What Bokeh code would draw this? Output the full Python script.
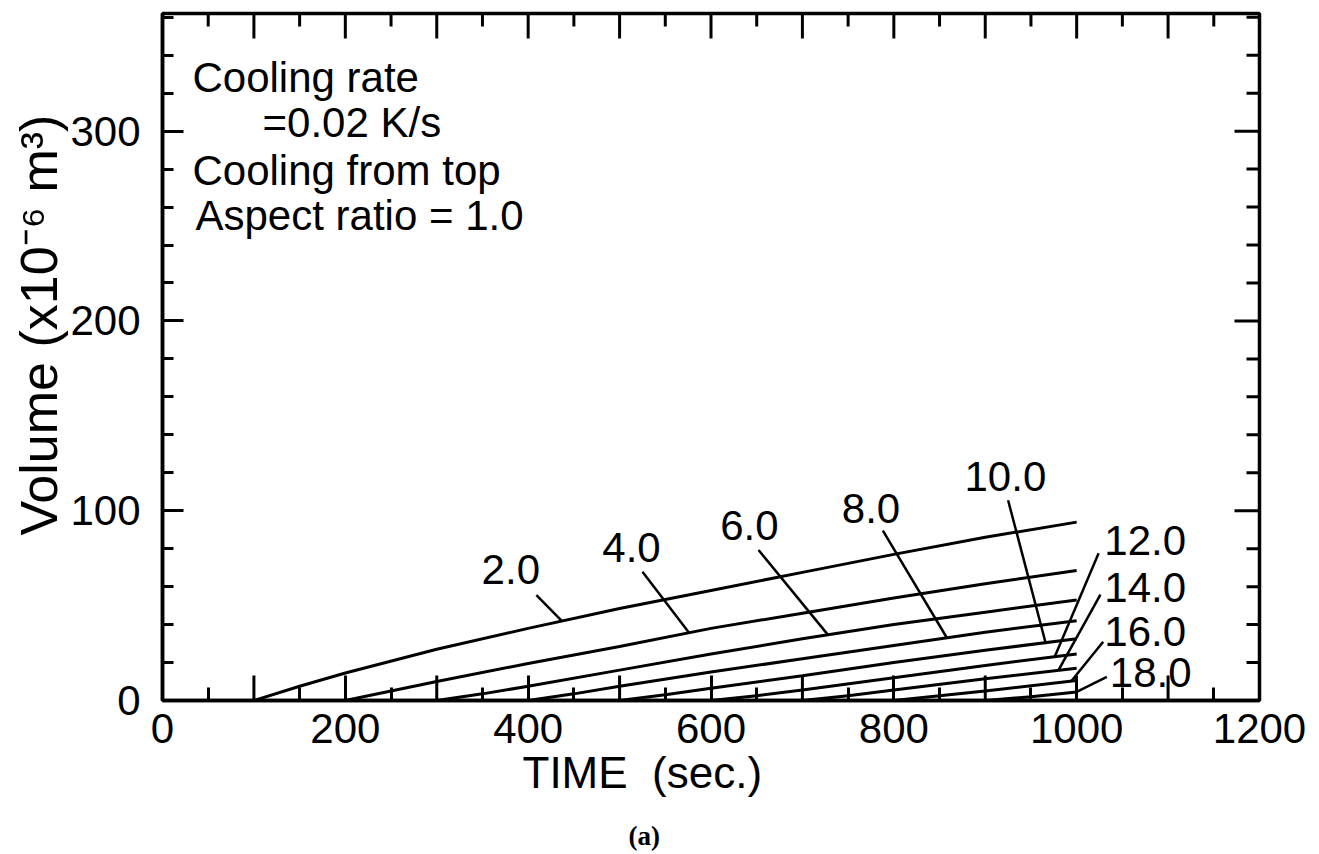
import numpy as np
from bokeh.plotting import figure
from bokeh.models import Range1d, FixedTicker, LinearAxis, Label, Title
from bokeh.embed import file_html
from bokeh.resources import INLINE

# ---------------- data ----------------
X_MAX = 1200
Y_MAX = 362
x_label_ticks = [0, 200, 400, 600, 800, 1000, 1200]
x_major_ticks = list(range(0, 1201, 100))
x_minor_ticks = list(range(50, 1200, 100))
y_major_ticks = [0, 100, 200, 300]
y_minor_ticks = [v for v in range(20, 361, 20) if v % 100 != 0]

curve_names = ["2.0", "4.0", "6.0", "8.0", "10.0", "12.0", "14.0", "16.0", "18.0"]

time_2 = [100, 150, 200, 300, 400, 500, 600, 700, 800, 900, 1000]
vol_2 = [0, 7.5, 14.5, 27, 38, 48.5, 58, 67.5, 77, 86, 94]
time_4 = [200, 250, 300, 400, 500, 600, 700, 800, 900, 1000]
vol_4 = [0, 5, 10, 19.5, 28.5, 38, 46, 54, 61.5, 68.5]
time_6 = [300, 350, 400, 500, 600, 700, 800, 900, 1000]
vol_6 = [0, 3.5, 7.5, 16, 24.5, 32.5, 40, 46.5, 53]
time_8 = [400, 450, 500, 600, 700, 800, 900, 1000]
vol_8 = [0, 3.5, 7.5, 15, 22, 29, 36, 42]
time_10 = [500, 550, 600, 700, 800, 900, 1000]
vol_10 = [0, 3, 6.5, 13, 20, 26.5, 32.5]
time_12 = [600, 650, 700, 800, 900, 1000]
vol_12 = [0, 2.5, 5.5, 12, 18.5, 24.5]
time_14 = [700, 750, 800, 900, 1000]
vol_14 = [0, 2.5, 5.5, 11.5, 17]
time_16 = [800, 850, 900, 1000]
vol_16 = [0, 2.5, 5, 10.5]
time_18 = [900, 950, 1000]
vol_18 = [0, 2, 4.5]

curve_times = [time_2, time_4, time_6, time_8, time_10, time_12, time_14, time_16, time_18]
curve_vols = [vol_2, vol_4, vol_6, vol_8, vol_10, vol_12, vol_14, vol_16, vol_18]

# ---------------- annotation layout (label centre, leader start, leader end time) ----------------
label_pos = [(381, 68.9), (513, 80.8), (642, 92), (775, 101.2), (922, 118.2),
             (1075, 84.5), (1075, 59.5), (1075, 36.5), (1081, 14.5)]
leader_start = [(409, 55.5), (525, 67.9), (652, 79.3), (788, 89.5), (925, 105.5),
                (1024, 77.6), (1026, 55.8), (1029, 31), (1033, 12.5)]
leader_end_t = [437, 576, 728, 858, 966, 976, 980, 994, 1000]

FONT = "Liberation Sans"

p = figure(frame_width=1097, frame_height=687,
           x_range=Range1d(0, X_MAX), y_range=Range1d(0, Y_MAX),
           output_backend="svg", toolbar_location=None,
           x_axis_type=None, y_axis_type=None,
           min_border_left=162, min_border_top=13, min_border_right=58, min_border_bottom=20)
p.grid.visible = False
p.outline_line_color = "black"
p.outline_line_width = 3.5
p.background_fill_color = "white"
p.border_fill_color = "white"


def style_axis(ax, tick_in, minor_in, standoff):
    ax.major_tick_in = tick_in
    ax.major_tick_out = 0
    ax.minor_tick_in = minor_in
    ax.minor_tick_out = 0
    ax.major_tick_line_width = 3
    ax.minor_tick_line_width = 3
    ax.major_tick_line_color = "black"
    ax.minor_tick_line_color = "black"
    ax.axis_line_width = 3.5
    ax.axis_line_color = "black"
    ax.major_label_text_font = FONT
    ax.major_label_text_font_size = "42px"
    ax.major_label_text_color = "black"
    ax.major_label_standoff = standoff


xb = LinearAxis(ticker=FixedTicker(ticks=x_label_ticks, minor_ticks=x_minor_ticks))
style_axis(xb, 25, 13, 13)
p.add_layout(xb, "below")

yl = LinearAxis(ticker=FixedTicker(ticks=y_major_ticks, minor_ticks=y_minor_ticks))
style_axis(yl, 21, 11, 22)
p.add_layout(yl, "left")

# titles (placed in the side panels)
p.add_layout(Title(text="TIME\u00a0\u00a0(sec.)", align="left", offset=360, standoff=0,
                   text_font=FONT, text_font_size="44px", text_font_style="normal",
                   text_color="black"), "below")
p.add_layout(Title(text="(a)", align="left", offset=466, standoff=44,
                   text_font="Liberation Serif", text_font_size="27px", text_font_style="bold",
                   text_color="black"), "below")
p.add_layout(Title(text="Volume (x10\u207b\u2076 m\u00b3)", align="left", offset=165, standoff=0,
                   text_font=FONT, text_font_size="52px", text_font_style="normal",
                   text_color="black"), "left")

# in-frame tick marks (odd hundreds on the bottom, top and right sides)
odd_hundreds = [t for t in x_major_ticks if t not in x_label_ticks]
p.scatter(odd_hundreds, [0] * len(odd_hundreds), marker="dash", size=50, angle=np.pi / 2,
          line_width=3, line_color="black")
p.scatter(x_major_ticks, [Y_MAX] * len(x_major_ticks), marker="dash", size=50, angle=np.pi / 2,
          line_width=3, line_color="black")
p.scatter(x_minor_ticks, [Y_MAX] * len(x_minor_ticks), marker="dash", size=26, angle=np.pi / 2,
          line_width=3, line_color="black")
p.scatter([X_MAX] * len(y_major_ticks), y_major_ticks, marker="dash", size=50,
          line_width=3, line_color="black")
p.scatter([X_MAX] * len(y_minor_ticks), y_minor_ticks, marker="dash", size=26,
          line_width=3, line_color="black")

# curves
for t, v in zip(curve_times, curve_vols):
    p.line(t, v, line_width=3, line_color="black")

# leaders
x0 = [s[0] for s in leader_start]
y0 = [s[1] for s in leader_start]
x1 = leader_end_t
y1 = [float(np.interp(te, t, v)) for te, t, v in zip(leader_end_t, curve_times, curve_vols)]
p.segment(x0=x0, y0=y0, x1=x1, y1=y1, line_width=2.5, line_color="black")

for name, (lx, ly) in zip(curve_names, label_pos):
    p.add_layout(Label(x=lx, y=ly, text=name, text_font=FONT, text_font_size="42px",
                       text_align="center", text_baseline="middle", text_color="black"))

# text block
info_lines = ["Cooling rate", "=0.02 K/s", "Cooling from top", "Aspect ratio = 1.0"]
info_pos = [(32.8, 328.2), (109.4, 304.5), (32.8, 279.2), (36.1, 255.5)]
for txt, (lx, ly) in zip(info_lines, info_pos):
    p.add_layout(Label(x=lx, y=ly, text=txt, text_font=FONT, text_font_size="42px",
                       text_align="left", text_baseline="middle", text_color="black"))

open("out.html", "w").write(file_html(p, INLINE))
